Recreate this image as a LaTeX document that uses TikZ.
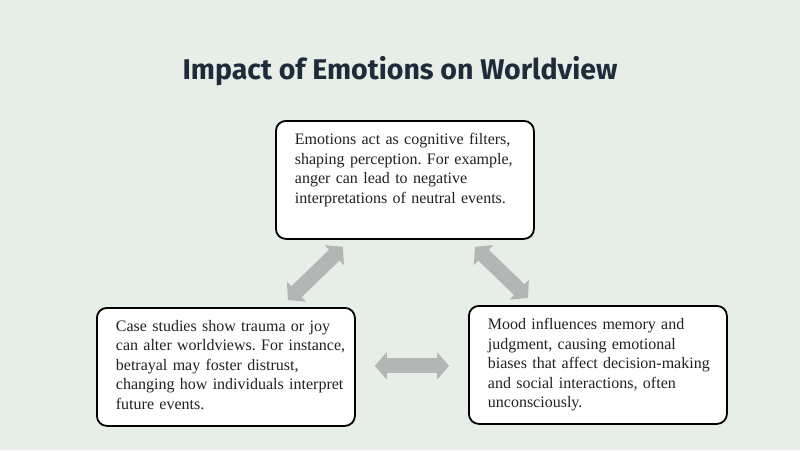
\documentclass[tikz,border=0pt]{standalone}
\usepackage{fontspec}
\setmainfont{Liberation Serif}
\newfontfamily\titlefont{Fira Sans}
\usepackage{tikz}
\usetikzlibrary{arrows.meta}
\definecolor{bgcol}{HTML}{E7EDE7}
\definecolor{titlecol}{HTML}{1E2B3A}
\definecolor{linkcol}{HTML}{B3B6B5}
\frenchspacing

\begin{document}
\begin{tikzpicture}[x=1pt,y=-1pt,>={Triangle[length=12pt,width=27pt]},
                    semithick]
  \tikzstyle{card}=[draw=black,line width=1.8pt,rounded corners=10pt,fill=white,
                    text=black!87,anchor=north west,align=left,text width=258pt,
                    inner xsep=0pt,inner ysep=12pt,minimum height=118pt,
                    text depth=82pt,font=\fontsize{16}{19.5}\selectfont,
                    execute at begin node={\leftskip=19pt}]
  \tikzstyle{link}=[<->,draw=linkcol,line width=15pt]

  \fill[bgcol] (0,0) rectangle (800,450);
  \node[anchor=base,text=titlecol,
        font=\titlefont\bfseries\fontsize{28.5}{32}\selectfont] (title) at (400,79.5)
        {Impact of Emotions on Worldview};

  \node[card] (filters) at (275,120) {Emotions act as cognitive filters,\\
    shaping perception. For example,\\ anger can lead to negative\\
    interpretations of neutral events.};
  \node[card] (cases) at (96,307) {Case studies show trauma or joy\\
    can alter worldviews. For instance,\\ betrayal may foster distrust,\\
    changing how individuals interpret\\ future events.};
  \node[card] (mood) at (468,305) {Mood influences memory and\\
    judgment, causing emotional\\ biases that affect decision-making\\
    and social interactions, often\\ unconsciously.};

  \path ([xshift=62pt,yshift=7pt]cases.north) edge[link] ([xshift=-62pt,yshift=-7pt]filters.south)
        ([xshift=70pt,yshift=-7pt]filters.south) edge[link] ([xshift=-70pt,yshift=7pt]mood.north)
        ([xshift=19pt,yshift=1pt]cases.east) edge[link] ([xshift=-19pt,yshift=-1pt]mood.west);
\end{tikzpicture}
\end{document}
